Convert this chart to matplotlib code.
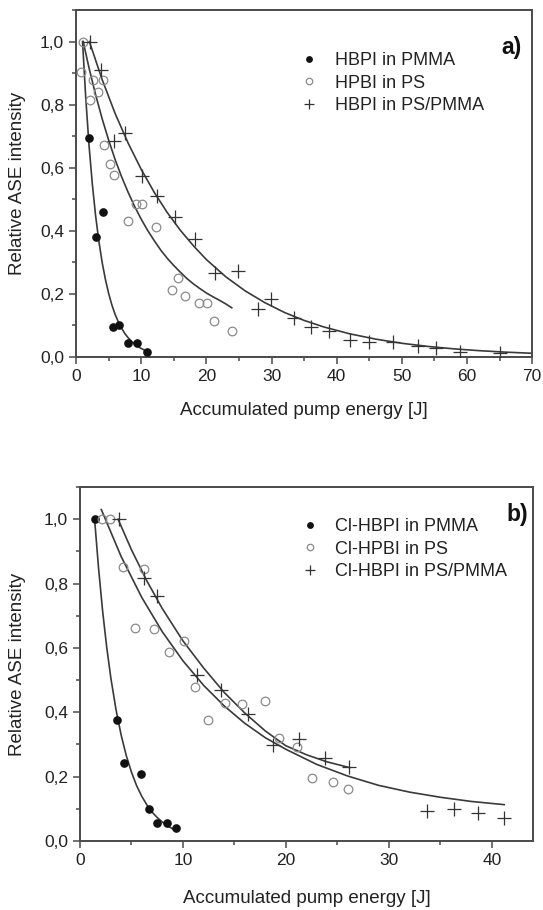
import matplotlib
matplotlib.use("Agg")
import matplotlib.pyplot as plt
from matplotlib.ticker import MultipleLocator

plt.rcParams['font.family'] = ['Liberation Sans', 'DejaVu Sans']

# ---------------- data: panel a) ----------------
a_pmma_x = [1.95, 3.0, 4.1, 5.6, 6.6, 8.0, 9.3, 10.95]
a_pmma_y = [0.695, 0.38, 0.46, 0.095, 0.102, 0.044, 0.044, 0.015]
a_ps_x = [0.77, 1.12, 2.1, 2.56, 3.33, 4.1, 4.35, 5.17, 5.84, 8.0, 9.2, 10.1,
          12.2, 14.7, 15.7, 16.7, 18.8, 20.1, 21.2, 23.9]
a_ps_y = [0.902, 1.0, 0.815, 0.879, 0.839, 0.877, 0.671, 0.611, 0.576, 0.432,
          0.485, 0.485, 0.412, 0.213, 0.252, 0.193, 0.171, 0.171, 0.113, 0.083]
a_mix_x = [2.15, 3.79, 5.9, 7.55, 10.1, 12.5, 15.2, 18.3, 21.3, 24.8, 28.0, 29.9,
           33.5, 36.0, 38.9, 42.0, 45.0, 48.7, 52.5, 55.3, 58.9, 65.1]
a_mix_y = [1.0, 0.911, 0.686, 0.71, 0.573, 0.511, 0.443, 0.375, 0.267, 0.272,
           0.151, 0.183, 0.125, 0.096, 0.083, 0.054, 0.048, 0.048, 0.036, 0.027,
           0.015, 0.014]
# fitted curves
a_pmma_fit_x = [1, 1.5, 2, 2.5, 3, 3.5, 4, 4.5, 5, 5.5, 6, 6.5, 7, 7.5, 8, 8.5,
                9, 9.5, 10, 10.5, 11]
a_pmma_fit_y = [1.0, 0.819, 0.670, 0.549, 0.449, 0.368, 0.301, 0.247, 0.202,
                0.165, 0.135, 0.111, 0.091, 0.074, 0.061, 0.050, 0.041, 0.033,
                0.027, 0.022, 0.018]
a_ps_fit_x = [1.1, 2, 3, 4, 5, 6, 7, 8, 9, 10, 11, 12, 13, 14, 15, 16, 17, 18,
              19, 20, 21, 22, 23, 23.9]
a_ps_fit_y = [1.0, 0.916, 0.832, 0.756, 0.688, 0.626, 0.571, 0.522, 0.477, 0.437,
              0.401, 0.369, 0.339, 0.313, 0.290, 0.269, 0.249, 0.232, 0.217,
              0.203, 0.191, 0.180, 0.168, 0.156]
a_mix_fit_x = [2.05, 4, 6, 8, 10, 12, 14, 16, 18, 20, 23, 26, 29, 32, 35, 38,
               42, 46, 50, 54, 58, 62, 66, 70]
a_mix_fit_y = [1.0, 0.880, 0.772, 0.678, 0.595, 0.522, 0.458, 0.402, 0.353,
               0.309, 0.254, 0.209, 0.172, 0.141, 0.116, 0.0954, 0.0735, 0.0566,
               0.0435, 0.0335, 0.0258, 0.0199, 0.0153, 0.0118]

# ---------------- data: panel b) ----------------
b_pmma_x = [1.42, 3.55, 4.32, 5.94, 6.68, 7.45, 8.45, 9.32]
b_pmma_y = [1.0, 0.377, 0.242, 0.209, 0.098, 0.057, 0.057, 0.041]
b_ps_x = [2.1, 2.9, 4.13, 5.35, 6.26, 7.15, 8.66, 10.1, 11.18, 12.42, 14.1, 15.75,
          17.98, 19.36, 21.1, 22.5, 24.6, 26.0]
b_ps_y = [1.0, 1.0, 0.853, 0.663, 0.844, 0.66, 0.587, 0.622, 0.48, 0.377, 0.429,
          0.425, 0.435, 0.321, 0.293, 0.195, 0.183, 0.161]
b_mix_x = [3.77, 6.26, 7.49, 11.37, 13.68, 16.3, 18.7, 21.25, 23.75, 26.15,
           33.75, 36.3, 38.7, 41.2]
b_mix_y = [1.0, 0.816, 0.762, 0.515, 0.47, 0.396, 0.299, 0.316, 0.258, 0.229,
           0.094, 0.099, 0.086, 0.071]
b_pmma_fit_x = [1.42, 1.8, 2.2, 2.6, 3.0, 3.5, 4.0, 4.5, 5.0, 5.5, 6.0, 6.5,
                7.0, 7.5, 8.0, 8.5, 9.0, 9.3]
b_pmma_fit_y = [1.0, 0.849, 0.714, 0.601, 0.506, 0.408, 0.329, 0.265, 0.214,
                0.172, 0.139, 0.112, 0.090, 0.073, 0.059, 0.047, 0.038, 0.034]
b_ps_fit_x = [2.07, 4, 6, 8, 10, 12, 14, 16, 18, 20, 23, 26, 29, 32, 35, 38, 41.2]
b_ps_fit_y = [1.03, 0.884, 0.757, 0.650, 0.560, 0.484, 0.420, 0.366, 0.321,
              0.285, 0.238, 0.202, 0.173, 0.152, 0.136, 0.123, 0.113]
b_mix_fit_x = [3.7, 5, 6.5, 8, 10, 12, 14, 16, 18, 20, 22, 24, 26.2]
b_mix_fit_y = [1.0, 0.905, 0.808, 0.722, 0.622, 0.538, 0.462, 0.398, 0.342,
               0.296, 0.268, 0.246, 0.228]

labels_a = ["HBPI in PMMA", "HPBI in PS", "HBPI in PS/PMMA"]
labels_b = ["Cl-HBPI in PMMA", "Cl-HPBI in PS", "Cl-HBPI in PS/PMMA"]
yticks = [0.0, 0.2, 0.4, 0.6, 0.8, 1.0]
ytick_labels = ["0,0", "0,2", "0,4", "0,6", "0,8", "1,0"]
xticks_a = [0, 10, 20, 30, 40, 50, 60, 70]
xticks_b = [0, 10, 20, 30, 40]
xlabel = "Accumulated pump energy [J]"
ylabel = "Relative ASE intensity"

# ---------------- styles ----------------
TXT = '#222222'
LINE = '#3a3a3a'
GRAY = '#8a8a8a'
SPINE = '#4a4a4a'

fig = plt.figure(figsize=(5.43, 9.10), dpi=100)
ax1 = fig.add_axes([0.140, 0.6077, 0.840, 0.3813])
ax2 = fig.add_axes([0.1473, 0.0758, 0.8343, 0.389])


def style(ax, xticks, xmax, panel, panel_xy, ylab_x, xlab_y):
    ax.set_xlim(0, xmax)
    ax.set_ylim(0, 1.1)
    ax.set_xticks(xticks)
    ax.set_xticklabels([str(t) for t in xticks])
    ax.set_yticks(yticks)
    ax.set_yticklabels(ytick_labels)
    ax.xaxis.set_minor_locator(MultipleLocator(5))
    ax.yaxis.set_minor_locator(MultipleLocator(0.1))
    ax.tick_params(which='both', direction='out', color=SPINE, width=1.1,
                   labelsize=12.5, labelcolor=TXT, top=False, right=False)
    ax.tick_params(which='major', length=5)
    ax.tick_params(which='minor', length=3)
    for s in ax.spines.values():
        s.set_color(SPINE)
        s.set_linewidth(1.4)
    ax.set_xlabel(xlabel, fontsize=13.5, color=TXT)
    ax.set_ylabel(ylabel, fontsize=13.5, color=TXT)
    ax.yaxis.set_label_coords(ylab_x, 0.5)
    ax.xaxis.set_label_coords(0.5, xlab_y)
    ax.text(panel_xy[0], panel_xy[1], panel, transform=ax.transAxes,
            ha='right', va='center', fontsize=16.5, fontweight='bold',
            color='#111111')


def draw(ax, d, labels, leg_xy):
    (px, py, sx, sy, mx, my, fpx, fpy, fsx, fsy, fmx, fmy) = d
    ax.plot(fpx, fpy, color=LINE, lw=1.2, zorder=2)
    ax.plot(fsx, fsy, color=LINE, lw=1.2, zorder=2)
    ax.plot(fmx, fmy, color=LINE, lw=1.2, zorder=2)
    h1, = ax.plot(px, py, 'o', ms=5.2, color='#111111', mec='#111111',
                  ls='none', zorder=3, label=labels[0])
    h2, = ax.plot(sx, sy, 'o', ms=6.2, mfc='none', mec=GRAY, mew=0.9,
                  ls='none', zorder=3, label=labels[1])
    h3, = ax.plot(mx, my, '+', ms=9.5, color='#333333', mew=0.9,
                  ls='none', zorder=3, label=labels[2])
    leg = ax.legend(handles=[h1, h2, h3], loc='upper left',
                    bbox_to_anchor=leg_xy, frameon=False, fontsize=13,
                    handlelength=1.0, handletextpad=0.9, labelspacing=0.3,
                    borderpad=0, borderaxespad=0, markerscale=0.75)
    for t in leg.get_texts():
        t.set_color(TXT)


draw(ax1, (a_pmma_x, a_pmma_y, a_ps_x, a_ps_y, a_mix_x, a_mix_y,
           a_pmma_fit_x, a_pmma_fit_y, a_ps_fit_x, a_ps_fit_y,
           a_mix_fit_x, a_mix_fit_y), labels_a, (0.492, 0.878))
draw(ax2, (b_pmma_x, b_pmma_y, b_ps_x, b_ps_y, b_mix_x, b_mix_y,
           b_pmma_fit_x, b_pmma_fit_y, b_ps_fit_x, b_ps_fit_y,
           b_mix_fit_x, b_mix_fit_y), labels_b, (0.487, 0.912))

style(ax1, xticks_a, 70, "a)", (0.978, 0.893), -0.11, -0.13)
style(ax2, xticks_b, 44, "b)", (0.99, 0.921), -0.119, -0.138)

fig.savefig("out.png", dpi=100)
